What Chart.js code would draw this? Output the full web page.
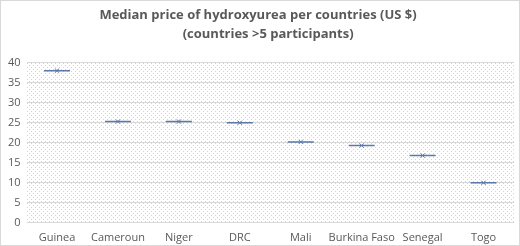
<!DOCTYPE html>
<html>
<head>
<meta charset="utf-8">
<script src="https://cdn.jsdelivr.net/npm/chart.js@4"></script>
<style>
    html, body { margin: 0; padding: 0; background: #fff; }
    #wrap { width: 520px; height: 246px; box-sizing: border-box; border: 1px solid #d9d9d9; }
</style>
</head>
<body>
<div id="wrap"><canvas id="priceChart" width="518" height="244"></canvas></div>
<script>
// Median price per country (US $)
const countries = ['Guinea', 'Cameroun', 'Niger', 'DRC', 'Mali', 'Burkina Faso', 'Senegal', 'Togo'];
const medianPrice = [38, 25.3, 25.3, 25, 20.2, 19.3, 16.8, 10];
const yTicks = [0, 5, 10, 15, 20, 25, 30, 35, 40];

const markColor = '#5a78aa';
const textColor = '#595959';

// Dotted background of the plot area
function makeDotPattern(ctx) {
    const tile = document.createElement('canvas');
    tile.width = 4;
    tile.height = 4;
    const t = tile.getContext('2d');
    t.fillStyle = '#ffffff';
    t.fillRect(0, 0, 4, 4);
    t.fillStyle = '#d2d2d2';
    t.fillRect(0, 0, 1, 1);
    t.fillRect(2, 2, 1, 1);
    return ctx.createPattern(tile, 'repeat');
}

const dottedArea = {
    id: 'dottedArea',
    beforeDraw(chart) {
        const { ctx, chartArea } = chart;
        ctx.save();
        ctx.fillStyle = makeDotPattern(ctx);
        ctx.fillRect(chartArea.left, chartArea.top, chartArea.right - chartArea.left, chartArea.bottom - chartArea.top);
        ctx.restore();
    }
};

new Chart(document.getElementById('priceChart'), {
    type: 'line',
    data: {
        labels: countries,
        datasets: [{
            label: 'Median',
            data: medianPrice,
            showLine: false,
            pointStyle: 'line',
            pointRadius: 13,
            pointHoverRadius: 13,
            borderColor: markColor,
            borderWidth: 1.5
        }, {
            label: 'Mean',
            data: medianPrice,
            showLine: false,
            pointStyle: 'crossRot',
            pointRadius: 3,
            pointHoverRadius: 3,
            borderColor: markColor,
            borderWidth: 1
        }]
    },
    options: {
        responsive: false,
        animation: false,
        layout: { autoPadding: false, padding: { left: 1, right: 5, top: 0, bottom: 0 } },
        plugins: {
            legend: { display: false },
            tooltip: { enabled: false },
            title: {
                display: true,
                text: ['Median price of hydroxyurea per countries (US $)', '      (countries >5 participants)'],
                color: textColor,
                font: { family: 'Open Sans', size: 13, weight: 'bold', lineHeight: 1.45 },
                padding: { top: 5, bottom: 19 }
            }
        },
        scales: {
            x: {
                offset: true,
                grid: { display: false, drawTicks: false },
                border: { display: false },
                ticks: { color: textColor, font: { family: 'Open Sans', size: 11 }, padding: 8, maxRotation: 0, autoSkip: false },
                afterFit(axis) {
                    axis.height -= 7;
                }
            },
            y: {
                min: 0,
                max: 40,
                afterBuildTicks(axis) {
                    axis.ticks = yTicks.map(v => ({ value: v }));
                },
                grid: { color: '#d9d9d9', drawTicks: false },
                border: { display: false },
                ticks: { color: textColor, font: { family: 'Open Sans', size: 11 }, padding: 6 }
            }
        }
    },
    plugins: [dottedArea]
});
</script>
</body>
</html>
